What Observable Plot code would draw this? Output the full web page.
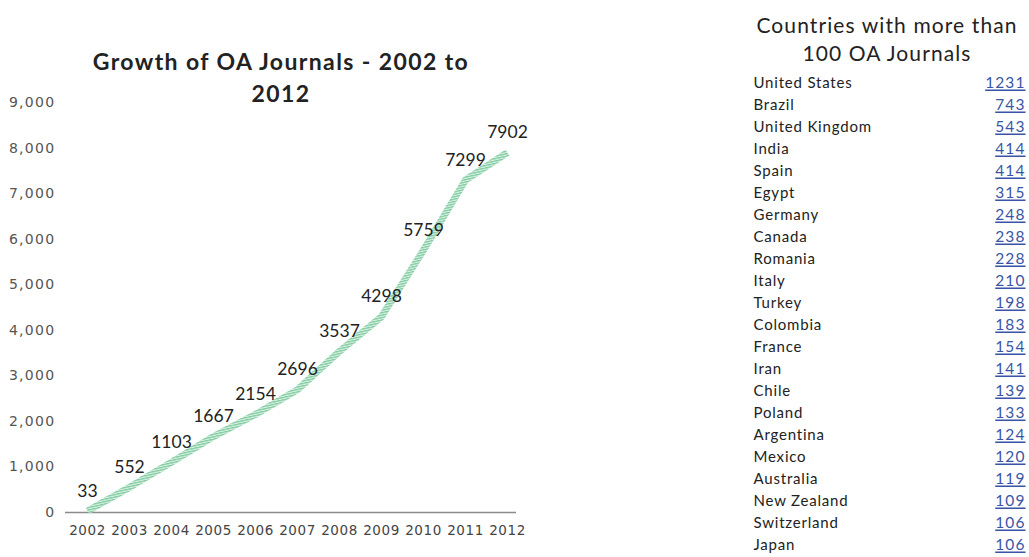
<!DOCTYPE html>
<html>
<head>
<meta charset="utf-8">
<script src="https://cdn.jsdelivr.net/npm/d3@7"></script>
<script src="https://cdn.jsdelivr.net/npm/@observablehq/plot@0.6"></script>
<style>
  html, body { margin: 0; padding: 0; background: #fff; }
  #page { position: relative; width: 1029px; height: 557px; overflow: hidden; background: #fff; }
  #chart { position: absolute; left: 0; top: 0; }
  #table { position: absolute; left: 740px; top: 0; }
  .title { position: absolute; left: 0; top: 45px; width: 562px; text-align: center;
           font-family: Lato, "Open Sans", sans-serif; font-weight: 700; font-size: 23px;
           letter-spacing: 1.4px; line-height: 32px; color: #222; }
  .ttitle { position: absolute; left: 740px; top: 11px; width: 294px; text-align: center;
            font-family: Lato, "Open Sans", sans-serif; font-weight: 400; font-size: 21px;
            letter-spacing: 1.1px; line-height: 28px; color: #222; }
</style>
</head>
<body>
<div id="page">
  <div id="chart"></div>
  <div id="table"></div>
  <div class="title">Growth of OA Journals - 2002 to<br>2012</div>
  <div class="ttitle">Countries with more than<br>100 OA Journals</div>
</div>
<script>
// ---- data ----
const years = ["2002","2003","2004","2005","2006","2007","2008","2009","2010","2011","2012"];
const journals = [33, 552, 1103, 1667, 2154, 2696, 3537, 4298, 5759, 7299, 7902];
const yTicks = [0, 1000, 2000, 3000, 4000, 5000, 6000, 7000, 8000, 9000];

const countries = ["United States","Brazil","United Kingdom","India","Spain","Egypt","Germany","Canada",
  "Romania","Italy","Turkey","Colombia","France","Iran","Chile","Poland","Argentina","Mexico",
  "Australia","New Zealand","Switzerland","Japan"];
const countryCounts = [1231, 743, 543, 414, 414, 315, 248, 238, 228, 210, 198, 183, 154, 141, 139, 133, 124, 120, 119, 109, 106, 106];

const series = years.map((y, i) => ({year: y, value: journals[i]}));
const rows = countries.map((c, i) => ({country: c, count: countryCounts[i]}));

// ---- line chart ----
const chart = Plot.plot({
  width: 540, height: 557,
  marginLeft: 65, marginRight: 24, marginTop: 102, marginBottom: 45,
  style: {background: "transparent", fontFamily: "DejaVu Sans, sans-serif", fontSize: "13px", color: "#555"},
  x: {type: "point", domain: years, range: [87, 507], padding: 0, label: null},
  y: {domain: [0, 9000], label: null},
  marks: [
    Plot.ruleY([0], {stroke: "#8c8c8c", strokeWidth: 1.5}),
    Plot.axisY({ticks: yTicks, tickSize: 0, tickPadding: 10, tickFormat: d3.format(","), fill: "#555", fontSize: 14, label: null}),
    Plot.axisX({tickSize: 0, tickPadding: 13, fill: "#444", fontSize: 13.5, label: null}),
    Plot.line(series, {x: "year", y: "value", stroke: "url(#hatch)", strokeWidth: 7, strokeLinecap: "butt"}),
    Plot.text(series, {x: "year", y: "value", text: d => String(d.value), dy: -20, fontSize: 17.5, fontFamily: "Lato, sans-serif", fill: "#222"})
  ]
});
{
  const svg = d3.select(chart);
  const defs = svg.insert("defs", ":first-child");
  const pat = defs.append("pattern").attr("id", "hatch").attr("patternUnits", "userSpaceOnUse")
    .attr("width", 8).attr("height", 2.4).attr("patternTransform", "rotate(-12)");
  pat.append("rect").attr("width", 8).attr("height", 2.4).attr("fill", "#dcf2e5");
  pat.append("rect").attr("width", 8).attr("height", 1.3).attr("fill", "#7fcaa0");
  const axes = chart.querySelectorAll('g[aria-label="y-axis tick label"]');
  axes.forEach(g => g.setAttribute("letter-spacing", "1.3px"));
  chart.querySelectorAll('g[aria-label="x-axis tick label"]').forEach(g => g.setAttribute("letter-spacing", "0.6px"));
}
document.getElementById("chart").appendChild(chart);

// ---- country table ----
const table = Plot.plot({
  width: 289, height: 557,
  marginLeft: 13, marginRight: 4, marginTop: 0, marginBottom: 0,
  style: {background: "transparent", fontFamily: "Lato, sans-serif", fontSize: "15px"},
  y: {type: "point", domain: countries, range: [79, 549], padding: 0, axis: null},
  marks: [
    Plot.text(rows, {y: "country", text: "country", frameAnchor: "left", textAnchor: "start", fill: "#222", fontSize: 15}),
    Plot.text(rows, {y: "country", text: d => String(d.count), frameAnchor: "right", textAnchor: "end", fill: "#3a55a6", fontSize: 15.5})
  ]
});
{
  const groups = table.querySelectorAll('g[aria-label="text"]');
  groups[0].setAttribute("letter-spacing", "0.8px");
  const valueGroup = groups[groups.length - 1];
  valueGroup.querySelectorAll("text").forEach(t => t.setAttribute("text-decoration", "underline"));
  valueGroup.setAttribute("letter-spacing", "1.1px");
}
document.getElementById("table").appendChild(table);
</script>
</body>
</html>
